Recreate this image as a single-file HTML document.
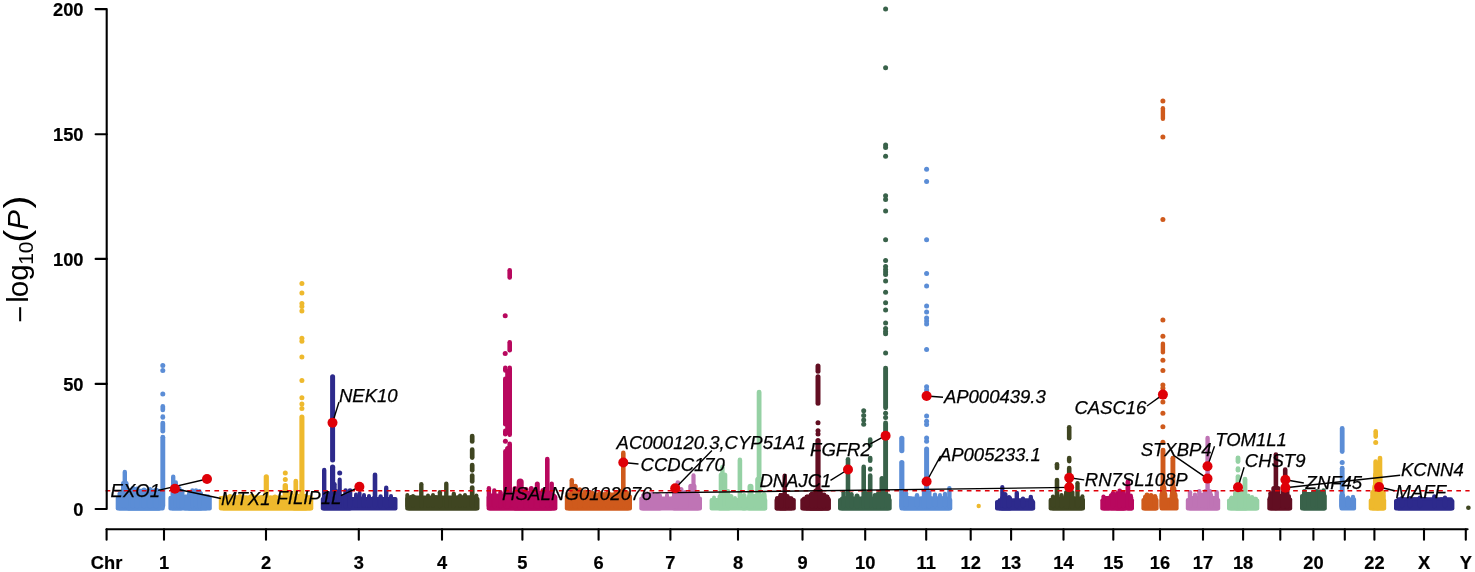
<!DOCTYPE html>
<html><head><meta charset="utf-8"><title>Manhattan plot</title>
<style>html,body{margin:0;padding:0;background:#fff}svg{display:block}</style></head>
<body><svg width="1475" height="572" viewBox="0 0 1475 572">
<rect width="1475" height="572" fill="#fff"/>
<rect x="115.7" y="496.0" width="49.0" height="14.5" rx="2" fill="#5b8dd6"/>
<path d="M117.2,498.0 L117.2,497.9 L118.8,496.9 L120.2,497.2 L122.2,498.7 L124.4,498.7 L126.5,498.6 L128.0,497.6 L130.7,498.5 L132.5,497.0 L135.4,497.1 L137.5,495.9 L138.9,496.3 L140.7,498.4 L142.2,497.9 L145.0,498.3 L147.3,496.9 L149.3,497.2 L150.7,498.7 L152.4,496.8 L154.5,497.9 L156.8,497.5 L158.7,496.5 L161.2,498.1 L163.2,498.0Z" fill="#5b8dd6" stroke="#5b8dd6" stroke-width="2" stroke-linejoin="round"/>
<rect x="168.4" y="496.0" width="43.4" height="14.5" rx="2" fill="#5b8dd6"/>
<path d="M169.9,498.0 L169.9,497.3 L172.8,496.7 L174.6,495.9 L176.1,497.6 L178.8,498.4 L180.9,498.7 L183.4,496.6 L185.8,496.2 L187.6,496.8 L190.0,497.1 L192.1,496.3 L195.1,497.4 L197.6,498.7 L200.2,496.9 L203.2,496.4 L205.0,497.7 L207.5,498.8 L209.7,498.3 L210.3,498.0Z" fill="#5b8dd6" stroke="#5b8dd6" stroke-width="2" stroke-linejoin="round"/>
<rect x="117.5" y="491.5" width="44.0" height="19.0" rx="2" fill="#5b8dd6"/>
<path d="M119.0,493.5 L119.0,493.9 L121.7,493.7 L123.4,493.2 L126.3,493.8 L128.4,492.9 L131.3,492.4 L134.1,493.4 L136.2,493.3 L139.0,492.1 L140.6,493.6 L142.3,493.5 L144.5,492.8 L146.3,494.0 L148.4,493.3 L150.7,492.1 L153.2,493.0 L155.6,492.6 L157.0,492.2 L159.7,492.3 L160.0,493.5Z" fill="#5b8dd6" stroke="#5b8dd6" stroke-width="2" stroke-linejoin="round"/>
<rect x="126.5" y="488.8" width="34.5" height="21.7" rx="2" fill="#5b8dd6"/>
<path d="M128.0,490.8 L128.0,490.5 L130.0,491.1 L132.5,491.2 L133.9,490.9 L135.5,490.6 L136.9,491.3 L138.5,491.1 L140.5,491.2 L143.3,490.1 L144.9,490.8 L146.8,490.6 L148.4,489.6 L151.4,490.4 L153.6,491.1 L155.1,490.6 L156.9,489.6 L158.5,491.3 L159.5,490.8Z" fill="#5b8dd6" stroke="#5b8dd6" stroke-width="2" stroke-linejoin="round"/>
<rect x="170.5" y="490.5" width="12.5" height="20.0" rx="2" fill="#5b8dd6"/>
<path d="M172.0,492.5 L172.0,491.9 L173.6,491.9 L174.9,491.9 L178.0,491.3 L180.5,492.5 L181.5,492.5Z" fill="#5b8dd6" stroke="#5b8dd6" stroke-width="2" stroke-linejoin="round"/>
<rect x="187.0" y="491.5" width="16.0" height="19.0" rx="2" fill="#5b8dd6"/>
<path d="M188.5,493.5 L188.5,493.7 L191.2,492.9 L193.9,493.3 L195.6,492.4 L198.6,492.3 L201.4,492.4 L201.5,493.5Z" fill="#5b8dd6" stroke="#5b8dd6" stroke-width="2" stroke-linejoin="round"/>
<rect x="183.0" y="494.5" width="25.0" height="16.0" rx="2" fill="#5b8dd6"/>
<path d="M184.5,496.5 L184.5,496.5 L186.7,496.3 L188.1,496.9 L189.9,496.5 L192.5,495.1 L194.6,495.1 L197.6,495.1 L199.6,496.6 L201.3,496.6 L203.0,495.8 L205.9,495.3 L206.5,496.5Z" fill="#5b8dd6" stroke="#5b8dd6" stroke-width="2" stroke-linejoin="round"/>
<line x1="124.8" y1="472.0" x2="124.8" y2="506.0" stroke="#5b8dd6" stroke-width="4.4" stroke-linecap="round"/>
<line x1="123.3" y1="483.3" x2="123.3" y2="506.0" stroke="#5b8dd6" stroke-width="4.6" stroke-linecap="round"/>
<line x1="126.3" y1="483.3" x2="126.3" y2="506.0" stroke="#5b8dd6" stroke-width="4.6" stroke-linecap="round"/>
<line x1="162.8" y1="437.2" x2="162.8" y2="506.0" stroke="#5b8dd6" stroke-width="4.9" stroke-linecap="round"/>
<line x1="173.2" y1="476.7" x2="173.2" y2="506.0" stroke="#5b8dd6" stroke-width="4.4" stroke-linecap="round"/>
<line x1="175.8" y1="482.5" x2="175.8" y2="506.0" stroke="#5b8dd6" stroke-width="4.4" stroke-linecap="round"/>
<line x1="179.0" y1="488.5" x2="179.0" y2="506.0" stroke="#5b8dd6" stroke-width="5" stroke-linecap="round"/>
<line x1="182.0" y1="491.5" x2="182.0" y2="506.0" stroke="#5b8dd6" stroke-width="5" stroke-linecap="round"/>
<line x1="192.4" y1="490.4" x2="192.4" y2="506.0" stroke="#5b8dd6" stroke-width="4.4" stroke-linecap="round"/>
<line x1="196.0" y1="490.4" x2="196.0" y2="506.0" stroke="#5b8dd6" stroke-width="4.4" stroke-linecap="round"/>
<line x1="199.4" y1="491.2" x2="199.4" y2="506.0" stroke="#5b8dd6" stroke-width="4.4" stroke-linecap="round"/>
<line x1="208.0" y1="496.3" x2="208.0" y2="506.0" stroke="#5b8dd6" stroke-width="4" stroke-linecap="round"/>
<line x1="133.0" y1="488.5" x2="133.0" y2="506.0" stroke="#5b8dd6" stroke-width="5" stroke-linecap="round"/>
<line x1="137.0" y1="489.0" x2="137.0" y2="506.0" stroke="#5b8dd6" stroke-width="5" stroke-linecap="round"/>
<line x1="144.0" y1="490.0" x2="144.0" y2="506.0" stroke="#5b8dd6" stroke-width="5" stroke-linecap="round"/>
<line x1="150.0" y1="489.5" x2="150.0" y2="506.0" stroke="#5b8dd6" stroke-width="5" stroke-linecap="round"/>
<line x1="156.0" y1="490.0" x2="156.0" y2="506.0" stroke="#5b8dd6" stroke-width="5" stroke-linecap="round"/>
<line x1="162.8" y1="423.1" x2="162.8" y2="431.2" stroke="#5b8dd6" stroke-width="4.8" stroke-linecap="round"/>
<line x1="162.8" y1="406.4" x2="162.8" y2="410.0" stroke="#5b8dd6" stroke-width="4.7" stroke-linecap="round"/>
<line x1="162.8" y1="416.7" x2="162.8" y2="417.4" stroke="#5b8dd6" stroke-width="4.8" stroke-linecap="round"/>
<circle cx="162.8" cy="365.6" r="2.5" fill="#5b8dd6"/>
<circle cx="162.8" cy="370.4" r="2.5" fill="#5b8dd6"/>
<circle cx="162.8" cy="394.1" r="2.5" fill="#5b8dd6"/>
<rect x="218.8" y="496.0" width="94.5" height="14.5" rx="2" fill="#eeb92d"/>
<path d="M220.3,498.0 L220.3,496.9 L223.0,498.6 L225.5,496.1 L228.2,496.6 L230.4,498.3 L233.1,497.9 L235.8,495.9 L237.8,497.6 L240.8,496.7 L242.4,498.5 L244.0,496.1 L246.8,498.4 L249.5,495.9 L252.0,497.8 L254.3,498.5 L255.6,495.9 L258.1,497.3 L261.1,497.5 L263.9,496.4 L265.6,498.1 L267.4,498.1 L269.8,498.1 L271.9,498.5 L274.8,497.8 L276.9,497.1 L279.8,497.6 L282.7,497.3 L285.0,497.3 L286.4,497.5 L288.0,498.8 L290.7,498.3 L292.9,496.7 L295.2,497.9 L297.4,497.2 L300.1,498.5 L302.4,498.1 L304.2,496.5 L306.4,497.2 L309.1,496.1 L311.2,497.0 L311.8,498.0Z" fill="#eeb92d" stroke="#eeb92d" stroke-width="2" stroke-linejoin="round"/>
<rect x="221.5" y="495.5" width="90.5" height="15.0" rx="2" fill="#eeb92d"/>
<path d="M223.0,497.5 L223.0,497.0 L225.5,497.1 L227.8,497.0 L230.8,496.6 L233.6,496.1 L235.4,496.9 L238.4,496.3 L240.0,497.8 L242.1,497.9 L243.8,497.9 L246.3,496.4 L249.2,497.7 L251.8,496.7 L253.3,496.2 L256.4,497.6 L259.4,497.2 L261.5,496.0 L264.3,497.7 L266.4,497.0 L268.3,497.6 L270.2,496.6 L271.6,496.9 L273.7,498.0 L275.6,496.8 L277.8,497.9 L280.8,496.4 L283.9,497.8 L285.7,497.9 L288.3,497.5 L289.9,497.2 L292.8,496.4 L294.6,497.7 L297.5,496.9 L300.1,497.8 L301.5,496.6 L303.6,497.9 L306.5,496.7 L309.3,497.8 L310.5,497.5Z" fill="#eeb92d" stroke="#eeb92d" stroke-width="2" stroke-linejoin="round"/>
<rect x="292.0" y="494.0" width="16.0" height="16.5" rx="2" fill="#eeb92d"/>
<path d="M293.5,496.0 L293.5,496.4 L296.3,495.6 L298.3,495.4 L301.2,496.0 L302.8,495.4 L304.5,496.3 L306.1,496.4 L306.5,496.0Z" fill="#eeb92d" stroke="#eeb92d" stroke-width="2" stroke-linejoin="round"/>
<line x1="266.3" y1="476.8" x2="266.3" y2="506.0" stroke="#eeb92d" stroke-width="5.2" stroke-linecap="round"/>
<line x1="285.3" y1="485.7" x2="285.3" y2="506.0" stroke="#eeb92d" stroke-width="5.4" stroke-linecap="round"/>
<line x1="295.8" y1="481.0" x2="295.8" y2="506.0" stroke="#eeb92d" stroke-width="4.7" stroke-linecap="round"/>
<line x1="301.9" y1="417.1" x2="301.9" y2="506.0" stroke="#eeb92d" stroke-width="5.1" stroke-linecap="round"/>
<line x1="290.5" y1="493.5" x2="290.5" y2="506.0" stroke="#eeb92d" stroke-width="5" stroke-linecap="round"/>
<line x1="240.0" y1="496.5" x2="240.0" y2="506.0" stroke="#eeb92d" stroke-width="5" stroke-linecap="round"/>
<line x1="252.0" y1="496.0" x2="252.0" y2="506.0" stroke="#eeb92d" stroke-width="5" stroke-linecap="round"/>
<line x1="275.0" y1="497.0" x2="275.0" y2="506.0" stroke="#eeb92d" stroke-width="5" stroke-linecap="round"/>
<line x1="230.0" y1="496.5" x2="230.0" y2="506.0" stroke="#eeb92d" stroke-width="5" stroke-linecap="round"/>
<circle cx="285.3" cy="473.0" r="2.5" fill="#eeb92d"/>
<circle cx="285.3" cy="479.4" r="2.5" fill="#eeb92d"/>
<circle cx="301.9" cy="283.6" r="2.5" fill="#eeb92d"/>
<circle cx="301.9" cy="293.0" r="2.5" fill="#eeb92d"/>
<circle cx="301.9" cy="303.5" r="2.5" fill="#eeb92d"/>
<circle cx="301.9" cy="306.5" r="2.5" fill="#eeb92d"/>
<circle cx="301.9" cy="311.0" r="2.5" fill="#eeb92d"/>
<circle cx="301.9" cy="338.3" r="2.5" fill="#eeb92d"/>
<circle cx="301.9" cy="341.2" r="2.5" fill="#eeb92d"/>
<circle cx="301.9" cy="357.0" r="2.5" fill="#eeb92d"/>
<circle cx="301.9" cy="380.6" r="2.5" fill="#eeb92d"/>
<circle cx="301.9" cy="397.7" r="2.5" fill="#eeb92d"/>
<circle cx="301.9" cy="404.0" r="2.5" fill="#eeb92d"/>
<circle cx="301.9" cy="408.5" r="2.5" fill="#eeb92d"/>
<rect x="320.8" y="497.0" width="76.7" height="13.5" rx="2" fill="#2d2a8c"/>
<path d="M322.3,499.0 L322.3,498.9 L324.2,497.6 L326.0,498.3 L327.6,498.8 L329.0,499.1 L330.3,497.7 L332.6,499.3 L334.8,497.0 L336.3,497.4 L338.4,498.4 L341.1,498.7 L343.4,497.8 L346.4,498.8 L349.2,497.7 L351.6,498.6 L353.6,499.7 L355.1,499.6 L357.7,499.1 L359.3,499.6 L362.1,497.2 L364.6,499.0 L366.4,499.0 L368.5,499.4 L370.6,499.1 L373.6,496.9 L375.9,499.1 L378.9,498.9 L380.9,499.8 L382.9,498.4 L385.1,499.2 L387.3,499.8 L389.1,499.6 L391.1,499.7 L392.5,498.9 L394.2,498.1 L396.0,499.0Z" fill="#2d2a8c" stroke="#2d2a8c" stroke-width="2" stroke-linejoin="round"/>
<rect x="322.0" y="494.3" width="30.0" height="16.2" rx="2" fill="#2d2a8c"/>
<path d="M323.5,496.3 L323.5,495.3 L326.0,495.4 L328.8,496.0 L330.7,494.8 L332.3,495.4 L334.8,496.7 L337.6,495.0 L340.0,495.3 L342.7,496.5 L345.0,495.8 L347.8,495.2 L350.5,496.3Z" fill="#2d2a8c" stroke="#2d2a8c" stroke-width="2" stroke-linejoin="round"/>
<line x1="332.6" y1="467.2" x2="332.6" y2="506.0" stroke="#2d2a8c" stroke-width="5.2" stroke-linecap="round"/>
<line x1="324.2" y1="470.0" x2="324.2" y2="506.0" stroke="#2d2a8c" stroke-width="4.4" stroke-linecap="round"/>
<line x1="339.7" y1="479.7" x2="339.7" y2="506.0" stroke="#2d2a8c" stroke-width="4.2" stroke-linecap="round"/>
<line x1="336.3" y1="491.2" x2="336.3" y2="506.0" stroke="#2d2a8c" stroke-width="4.4" stroke-linecap="round"/>
<line x1="328.4" y1="493.2" x2="328.4" y2="506.0" stroke="#2d2a8c" stroke-width="4.4" stroke-linecap="round"/>
<line x1="334.5" y1="484.2" x2="334.5" y2="506.0" stroke="#2d2a8c" stroke-width="4.4" stroke-linecap="round"/>
<line x1="375.0" y1="474.7" x2="375.0" y2="506.0" stroke="#2d2a8c" stroke-width="4.6" stroke-linecap="round"/>
<line x1="386.2" y1="487.8" x2="386.2" y2="506.0" stroke="#2d2a8c" stroke-width="4.4" stroke-linecap="round"/>
<line x1="380.6" y1="496.5" x2="380.6" y2="506.0" stroke="#2d2a8c" stroke-width="4.4" stroke-linecap="round"/>
<line x1="345.6" y1="490.5" x2="345.6" y2="506.0" stroke="#2d2a8c" stroke-width="4.6" stroke-linecap="round"/>
<line x1="350.0" y1="490.5" x2="350.0" y2="506.0" stroke="#2d2a8c" stroke-width="4.6" stroke-linecap="round"/>
<line x1="356.0" y1="494.5" x2="356.0" y2="506.0" stroke="#2d2a8c" stroke-width="4" stroke-linecap="round"/>
<line x1="359.6" y1="493.0" x2="359.6" y2="506.0" stroke="#2d2a8c" stroke-width="4" stroke-linecap="round"/>
<line x1="364.0" y1="495.0" x2="364.0" y2="506.0" stroke="#2d2a8c" stroke-width="4" stroke-linecap="round"/>
<line x1="369.0" y1="496.0" x2="369.0" y2="506.0" stroke="#2d2a8c" stroke-width="4" stroke-linecap="round"/>
<line x1="391.0" y1="496.0" x2="391.0" y2="506.0" stroke="#2d2a8c" stroke-width="4" stroke-linecap="round"/>
<line x1="332.6" y1="376.7" x2="332.6" y2="460.1" stroke="#2d2a8c" stroke-width="5.0" stroke-linecap="round"/>
<circle cx="339.7" cy="473.1" r="2.5" fill="#2d2a8c"/>
<rect x="405.2" y="497.0" width="74.3" height="13.5" rx="2" fill="#3f4521"/>
<path d="M406.7,499.0 L406.7,498.1 L409.6,497.8 L412.1,499.2 L413.5,499.5 L415.5,499.5 L418.3,498.2 L420.7,498.0 L423.2,498.4 L424.5,497.5 L427.2,498.3 L429.4,497.9 L430.9,497.6 L432.6,499.6 L434.4,497.7 L436.1,497.6 L439.1,498.4 L441.1,498.4 L443.6,497.5 L446.0,497.9 L447.5,499.4 L449.3,497.6 L451.1,498.1 L452.5,499.7 L454.3,497.8 L456.8,497.8 L458.6,498.3 L460.8,498.5 L462.3,497.2 L464.0,496.9 L466.9,499.8 L469.1,497.4 L472.1,498.5 L473.9,499.2 L476.9,499.2 L478.0,499.0Z" fill="#3f4521" stroke="#3f4521" stroke-width="2" stroke-linejoin="round"/>
<rect x="407.0" y="495.5" width="71.0" height="15.0" rx="2" fill="#3f4521"/>
<path d="M408.5,497.5 L408.5,497.7 L410.7,496.1 L412.3,496.4 L414.5,496.2 L417.1,497.5 L420.0,497.0 L421.3,498.0 L423.5,497.1 L425.4,497.7 L427.3,497.4 L430.1,498.0 L432.7,496.3 L434.3,496.1 L436.8,496.2 L438.7,497.3 L440.7,496.0 L443.0,497.3 L445.1,497.4 L446.5,497.8 L449.3,497.4 L452.3,497.5 L454.1,497.0 L455.7,497.3 L458.7,496.2 L461.5,496.7 L464.4,496.1 L466.7,496.6 L468.1,496.5 L470.2,496.5 L472.7,497.4 L474.1,496.1 L475.6,497.1 L476.5,497.5Z" fill="#3f4521" stroke="#3f4521" stroke-width="2" stroke-linejoin="round"/>
<line x1="472.2" y1="487.5" x2="472.2" y2="506.0" stroke="#3f4521" stroke-width="4.7" stroke-linecap="round"/>
<line x1="421.3" y1="484.2" x2="421.3" y2="506.0" stroke="#3f4521" stroke-width="4.4" stroke-linecap="round"/>
<line x1="446.3" y1="483.7" x2="446.3" y2="506.0" stroke="#3f4521" stroke-width="4.4" stroke-linecap="round"/>
<line x1="439.9" y1="492.2" x2="439.9" y2="506.0" stroke="#3f4521" stroke-width="4.4" stroke-linecap="round"/>
<line x1="453.8" y1="493.9" x2="453.8" y2="506.0" stroke="#3f4521" stroke-width="4.4" stroke-linecap="round"/>
<line x1="407.3" y1="495.0" x2="407.3" y2="506.0" stroke="#3f4521" stroke-width="4" stroke-linecap="round"/>
<line x1="476.4" y1="495.4" x2="476.4" y2="506.0" stroke="#3f4521" stroke-width="4" stroke-linecap="round"/>
<line x1="413.0" y1="496.0" x2="413.0" y2="506.0" stroke="#3f4521" stroke-width="4" stroke-linecap="round"/>
<line x1="428.0" y1="495.5" x2="428.0" y2="506.0" stroke="#3f4521" stroke-width="4" stroke-linecap="round"/>
<line x1="433.0" y1="495.0" x2="433.0" y2="506.0" stroke="#3f4521" stroke-width="4" stroke-linecap="round"/>
<line x1="460.0" y1="495.5" x2="460.0" y2="506.0" stroke="#3f4521" stroke-width="4" stroke-linecap="round"/>
<line x1="465.0" y1="495.0" x2="465.0" y2="506.0" stroke="#3f4521" stroke-width="4" stroke-linecap="round"/>
<line x1="472.2" y1="436.1" x2="472.2" y2="441.5" stroke="#3f4521" stroke-width="4.7" stroke-linecap="round"/>
<line x1="472.2" y1="449.7" x2="472.2" y2="457.6" stroke="#3f4521" stroke-width="4.7" stroke-linecap="round"/>
<line x1="472.2" y1="465.1" x2="472.2" y2="470.3" stroke="#3f4521" stroke-width="4.7" stroke-linecap="round"/>
<line x1="472.2" y1="475.6" x2="472.2" y2="481.4" stroke="#3f4521" stroke-width="4.7" stroke-linecap="round"/>
<rect x="486.6" y="495.0" width="70.8" height="15.5" rx="2" fill="#b8085e"/>
<path d="M488.1,497.0 L488.1,497.0 L490.7,494.9 L492.5,495.9 L494.3,496.2 L496.4,497.3 L498.0,497.2 L500.9,496.4 L502.6,495.1 L505.7,496.5 L507.2,497.3 L508.7,496.8 L510.2,497.1 L512.0,496.1 L514.8,495.6 L516.9,496.6 L519.1,496.7 L521.0,497.7 L522.9,494.9 L524.4,496.3 L526.8,495.3 L528.5,497.0 L530.3,496.7 L532.4,495.0 L535.2,495.2 L536.6,497.8 L539.1,495.2 L541.3,496.1 L542.6,496.7 L545.6,495.4 L548.4,494.9 L550.1,497.5 L551.7,496.3 L554.2,495.0 L555.9,497.0Z" fill="#b8085e" stroke="#b8085e" stroke-width="2" stroke-linejoin="round"/>
<rect x="488.0" y="493.5" width="68.0" height="17.0" rx="2" fill="#b8085e"/>
<path d="M489.5,495.5 L489.5,494.7 L492.2,495.1 L494.5,495.9 L497.2,495.5 L500.1,494.7 L501.9,495.7 L503.7,494.7 L506.3,495.8 L507.7,495.0 L510.0,495.2 L511.8,494.8 L513.1,495.4 L515.2,494.1 L517.7,494.2 L519.8,495.5 L521.6,494.1 L524.2,495.4 L525.5,495.0 L528.0,495.2 L529.8,494.7 L532.7,495.5 L534.1,495.3 L536.2,494.6 L537.9,494.4 L540.5,495.0 L542.2,494.1 L544.0,494.4 L545.8,495.6 L548.4,495.4 L551.4,495.0 L553.1,495.6 L554.5,495.5Z" fill="#b8085e" stroke="#b8085e" stroke-width="2" stroke-linejoin="round"/>
<rect x="513.0" y="491.0" width="40.0" height="19.5" rx="2" fill="#b8085e"/>
<path d="M514.5,493.0 L514.5,492.2 L517.5,493.2 L519.5,493.1 L522.5,493.2 L523.9,493.4 L526.0,491.7 L528.8,492.0 L531.9,491.6 L533.8,493.1 L536.8,492.0 L538.2,492.2 L540.1,492.8 L542.0,493.2 L543.4,492.9 L545.3,491.6 L546.8,491.6 L548.5,492.8 L551.3,491.9 L551.5,493.0Z" fill="#b8085e" stroke="#b8085e" stroke-width="2" stroke-linejoin="round"/>
<line x1="509.7" y1="443.8" x2="509.7" y2="506.0" stroke="#b8085e" stroke-width="4.6" stroke-linecap="round"/>
<line x1="505.4" y1="451.3" x2="505.4" y2="506.0" stroke="#b8085e" stroke-width="4.6" stroke-linecap="round"/>
<line x1="507.6" y1="448.5" x2="507.6" y2="506.0" stroke="#b8085e" stroke-width="5" stroke-linecap="round"/>
<line x1="547.3" y1="459.0" x2="547.3" y2="506.0" stroke="#b8085e" stroke-width="4.6" stroke-linecap="round"/>
<line x1="520.2" y1="482.1" x2="520.2" y2="506.0" stroke="#b8085e" stroke-width="7" stroke-linecap="round"/>
<line x1="537.3" y1="484.0" x2="537.3" y2="506.0" stroke="#b8085e" stroke-width="5" stroke-linecap="round"/>
<line x1="551.7" y1="483.7" x2="551.7" y2="506.0" stroke="#b8085e" stroke-width="4.4" stroke-linecap="round"/>
<line x1="531.3" y1="488.5" x2="531.3" y2="506.0" stroke="#b8085e" stroke-width="5" stroke-linecap="round"/>
<line x1="488.9" y1="488.2" x2="488.9" y2="506.0" stroke="#b8085e" stroke-width="4.4" stroke-linecap="round"/>
<line x1="494.3" y1="490.4" x2="494.3" y2="506.0" stroke="#b8085e" stroke-width="4.4" stroke-linecap="round"/>
<line x1="500.5" y1="492.2" x2="500.5" y2="506.0" stroke="#b8085e" stroke-width="4.4" stroke-linecap="round"/>
<line x1="515.0" y1="488.5" x2="515.0" y2="506.0" stroke="#b8085e" stroke-width="5" stroke-linecap="round"/>
<line x1="526.0" y1="489.5" x2="526.0" y2="506.0" stroke="#b8085e" stroke-width="5" stroke-linecap="round"/>
<line x1="543.0" y1="490.5" x2="543.0" y2="506.0" stroke="#b8085e" stroke-width="5" stroke-linecap="round"/>
<line x1="509.7" y1="270.3" x2="509.7" y2="277.4" stroke="#b8085e" stroke-width="4.6" stroke-linecap="round"/>
<line x1="509.7" y1="342.3" x2="509.7" y2="350.2" stroke="#b8085e" stroke-width="4.6" stroke-linecap="round"/>
<line x1="509.7" y1="367.7" x2="509.7" y2="434.7" stroke="#b8085e" stroke-width="4.6" stroke-linecap="round"/>
<line x1="505.3" y1="367.7" x2="505.3" y2="370.5" stroke="#b8085e" stroke-width="4.6" stroke-linecap="round"/>
<line x1="505.3" y1="378.8" x2="505.3" y2="424.2" stroke="#b8085e" stroke-width="4.6" stroke-linecap="round"/>
<line x1="505.3" y1="430.8" x2="505.3" y2="434.2" stroke="#b8085e" stroke-width="4.6" stroke-linecap="round"/>
<line x1="507.5" y1="371.3" x2="507.5" y2="432.7" stroke="#b8085e" stroke-width="4.6" stroke-linecap="round"/>
<circle cx="505.2" cy="315.7" r="2.5" fill="#b8085e"/>
<circle cx="505.2" cy="353.5" r="2.5" fill="#b8085e"/>
<circle cx="505.4" cy="441.2" r="2.5" fill="#b8085e"/>
<rect x="564.8" y="494.5" width="67.2" height="16.0" rx="2" fill="#cf5a1c"/>
<path d="M566.3,496.5 L566.3,497.2 L568.5,496.2 L571.4,496.8 L573.4,494.7 L574.7,496.1 L577.5,495.0 L578.9,497.2 L580.3,494.6 L582.1,495.1 L585.0,496.3 L586.8,494.5 L589.2,496.6 L591.8,496.4 L593.6,497.3 L596.2,494.6 L598.6,494.5 L600.0,496.6 L602.2,494.5 L605.2,496.2 L606.9,496.1 L609.1,494.6 L610.8,494.9 L613.4,494.9 L616.1,495.5 L618.0,496.4 L619.9,495.0 L621.4,496.8 L624.0,496.6 L625.4,497.2 L627.7,496.4 L630.5,496.5Z" fill="#cf5a1c" stroke="#cf5a1c" stroke-width="2" stroke-linejoin="round"/>
<rect x="567.0" y="492.5" width="63.0" height="18.0" rx="2" fill="#cf5a1c"/>
<path d="M568.5,494.5 L568.5,493.2 L571.6,494.5 L573.0,494.8 L575.2,493.6 L577.3,494.5 L579.4,493.8 L581.9,493.5 L584.7,493.7 L586.2,493.3 L588.1,493.9 L590.0,493.5 L591.7,494.5 L593.5,494.7 L596.3,493.8 L598.2,494.2 L601.3,494.0 L603.0,493.4 L605.5,493.0 L607.0,494.1 L609.8,493.3 L612.7,494.9 L614.5,494.8 L616.2,493.1 L618.5,493.1 L620.5,493.3 L622.6,494.5 L625.3,493.1 L626.8,493.8 L628.5,494.5Z" fill="#cf5a1c" stroke="#cf5a1c" stroke-width="2" stroke-linejoin="round"/>
<line x1="623.3" y1="452.9" x2="623.3" y2="506.0" stroke="#cf5a1c" stroke-width="4.6" stroke-linecap="round"/>
<line x1="571.8" y1="480.2" x2="571.8" y2="506.0" stroke="#cf5a1c" stroke-width="4.5" stroke-linecap="round"/>
<line x1="575.3" y1="486.3" x2="575.3" y2="506.0" stroke="#cf5a1c" stroke-width="5" stroke-linecap="round"/>
<line x1="579.7" y1="489.8" x2="579.7" y2="506.0" stroke="#cf5a1c" stroke-width="5" stroke-linecap="round"/>
<line x1="585.0" y1="492.0" x2="585.0" y2="506.0" stroke="#cf5a1c" stroke-width="5" stroke-linecap="round"/>
<line x1="592.0" y1="493.0" x2="592.0" y2="506.0" stroke="#cf5a1c" stroke-width="5" stroke-linecap="round"/>
<line x1="600.0" y1="493.5" x2="600.0" y2="506.0" stroke="#cf5a1c" stroke-width="5" stroke-linecap="round"/>
<line x1="608.0" y1="493.0" x2="608.0" y2="506.0" stroke="#cf5a1c" stroke-width="5" stroke-linecap="round"/>
<line x1="616.0" y1="493.0" x2="616.0" y2="506.0" stroke="#cf5a1c" stroke-width="5" stroke-linecap="round"/>
<line x1="620.5" y1="491.5" x2="620.5" y2="506.0" stroke="#cf5a1c" stroke-width="5" stroke-linecap="round"/>
<line x1="626.5" y1="492.5" x2="626.5" y2="506.0" stroke="#cf5a1c" stroke-width="5" stroke-linecap="round"/>
<rect x="639.3" y="496.5" width="62.7" height="14.0" rx="2" fill="#bf74b5"/>
<path d="M640.8,498.5 L640.8,498.7 L642.8,498.9 L644.4,498.6 L646.8,497.4 L648.5,499.3 L650.4,497.3 L652.0,498.4 L653.7,497.0 L656.0,499.2 L657.5,498.2 L659.8,497.4 L661.3,498.9 L663.8,498.1 L665.6,498.4 L668.6,498.4 L670.9,498.3 L673.0,496.8 L676.1,498.3 L677.7,497.2 L679.4,499.3 L682.3,498.1 L685.1,498.1 L688.0,498.0 L689.6,499.3 L691.9,497.4 L694.8,499.1 L697.2,498.2 L699.4,498.9 L700.5,498.5Z" fill="#bf74b5" stroke="#bf74b5" stroke-width="2" stroke-linejoin="round"/>
<rect x="641.0" y="493.5" width="21.0" height="17.0" rx="2" fill="#bf74b5"/>
<path d="M642.5,495.5 L642.5,495.0 L645.4,495.8 L647.6,494.4 L650.7,495.6 L652.2,494.1 L655.2,495.0 L656.6,494.1 L658.7,494.2 L660.5,495.5Z" fill="#bf74b5" stroke="#bf74b5" stroke-width="2" stroke-linejoin="round"/>
<rect x="672.0" y="493.0" width="28.0" height="17.5" rx="2" fill="#bf74b5"/>
<path d="M673.5,495.0 L673.5,493.9 L675.1,493.9 L676.8,494.7 L679.6,493.8 L681.3,495.1 L683.3,494.5 L685.3,495.3 L687.0,494.1 L689.9,495.4 L692.2,494.0 L693.6,493.8 L695.2,494.3 L697.4,494.2 L698.5,495.0Z" fill="#bf74b5" stroke="#bf74b5" stroke-width="2" stroke-linejoin="round"/>
<line x1="693.5" y1="475.4" x2="693.5" y2="506.0" stroke="#bf74b5" stroke-width="4.2" stroke-linecap="round"/>
<line x1="690.8" y1="486.3" x2="690.8" y2="506.0" stroke="#bf74b5" stroke-width="5" stroke-linecap="round"/>
<line x1="694.0" y1="486.3" x2="694.0" y2="506.0" stroke="#bf74b5" stroke-width="5" stroke-linecap="round"/>
<line x1="677.8" y1="482.6" x2="677.8" y2="506.0" stroke="#bf74b5" stroke-width="4.6" stroke-linecap="round"/>
<line x1="675.0" y1="488.0" x2="675.0" y2="506.0" stroke="#bf74b5" stroke-width="6" stroke-linecap="round"/>
<line x1="681.0" y1="489.5" x2="681.0" y2="506.0" stroke="#bf74b5" stroke-width="5" stroke-linecap="round"/>
<line x1="685.0" y1="492.5" x2="685.0" y2="506.0" stroke="#bf74b5" stroke-width="5" stroke-linecap="round"/>
<line x1="667.0" y1="495.0" x2="667.0" y2="506.0" stroke="#bf74b5" stroke-width="4" stroke-linecap="round"/>
<line x1="652.0" y1="493.5" x2="652.0" y2="506.0" stroke="#bf74b5" stroke-width="4" stroke-linecap="round"/>
<line x1="646.0" y1="493.5" x2="646.0" y2="506.0" stroke="#bf74b5" stroke-width="4" stroke-linecap="round"/>
<rect x="709.6" y="498.0" width="57.7" height="12.5" rx="2" fill="#95d1a4"/>
<path d="M711.1,500.0 L711.1,499.7 L713.4,499.6 L715.9,499.6 L718.0,500.5 L720.4,499.5 L722.2,499.0 L724.9,499.6 L726.5,499.6 L728.0,500.2 L730.1,500.3 L732.2,499.5 L733.6,499.2 L735.0,499.0 L737.7,499.5 L739.1,499.5 L741.1,498.6 L742.7,498.8 L745.8,499.0 L748.5,500.1 L751.6,499.5 L754.6,498.7 L756.2,498.9 L759.1,500.4 L761.1,499.0 L762.7,498.7 L764.5,498.9 L765.8,500.0Z" fill="#95d1a4" stroke="#95d1a4" stroke-width="2" stroke-linejoin="round"/>
<rect x="717.5" y="494.5" width="13.5" height="16.0" rx="2" fill="#95d1a4"/>
<path d="M719.0,496.5 L719.0,496.0 L721.9,496.6 L723.7,496.0 L725.6,496.9 L727.2,496.7 L729.5,496.5Z" fill="#95d1a4" stroke="#95d1a4" stroke-width="2" stroke-linejoin="round"/>
<rect x="741.0" y="496.0" width="6.0" height="14.5" rx="2" fill="#95d1a4"/>
<path d="M742.5,498.0 L742.5,497.1 L745.4,498.2 L745.5,498.0Z" fill="#95d1a4" stroke="#95d1a4" stroke-width="2" stroke-linejoin="round"/>
<rect x="747.0" y="494.0" width="19.5" height="16.5" rx="2" fill="#95d1a4"/>
<path d="M748.5,496.0 L748.5,496.3 L750.8,495.2 L752.7,494.8 L755.0,495.3 L757.9,496.3 L760.9,495.2 L763.0,494.9 L764.7,494.5 L765.0,496.0Z" fill="#95d1a4" stroke="#95d1a4" stroke-width="2" stroke-linejoin="round"/>
<line x1="759.1" y1="392.1" x2="759.1" y2="506.0" stroke="#95d1a4" stroke-width="4.8" stroke-linecap="round"/>
<line x1="739.9" y1="459.9" x2="739.9" y2="506.0" stroke="#95d1a4" stroke-width="4.6" stroke-linecap="round"/>
<line x1="722.4" y1="467.2" x2="722.4" y2="506.0" stroke="#95d1a4" stroke-width="4.4" stroke-linecap="round"/>
<line x1="721.2" y1="474.9" x2="721.2" y2="506.0" stroke="#95d1a4" stroke-width="5" stroke-linecap="round"/>
<line x1="724.8" y1="474.9" x2="724.8" y2="506.0" stroke="#95d1a4" stroke-width="5" stroke-linecap="round"/>
<line x1="758.2" y1="479.8" x2="758.2" y2="506.0" stroke="#95d1a4" stroke-width="6" stroke-linecap="round"/>
<line x1="750.5" y1="486.8" x2="750.5" y2="506.0" stroke="#95d1a4" stroke-width="6" stroke-linecap="round"/>
<line x1="744.0" y1="495.5" x2="744.0" y2="506.0" stroke="#95d1a4" stroke-width="5" stroke-linecap="round"/>
<line x1="731.0" y1="496.5" x2="731.0" y2="506.0" stroke="#95d1a4" stroke-width="5" stroke-linecap="round"/>
<line x1="735.0" y1="498.0" x2="735.0" y2="506.0" stroke="#95d1a4" stroke-width="4" stroke-linecap="round"/>
<line x1="714.0" y1="497.5" x2="714.0" y2="506.0" stroke="#95d1a4" stroke-width="4" stroke-linecap="round"/>
<line x1="764.0" y1="494.5" x2="764.0" y2="506.0" stroke="#95d1a4" stroke-width="5" stroke-linecap="round"/>
<line x1="728.0" y1="491.2" x2="728.0" y2="506.0" stroke="#95d1a4" stroke-width="4.4" stroke-linecap="round"/>
<rect x="774.5" y="498.0" width="21.3" height="12.5" rx="2" fill="#620e22"/>
<path d="M776.0,500.0 L776.0,499.8 L778.7,499.6 L780.3,499.0 L781.7,498.9 L783.5,499.2 L786.5,499.3 L789.0,499.9 L790.3,500.4 L791.9,499.3 L794.0,499.5 L794.3,500.0Z" fill="#620e22" stroke="#620e22" stroke-width="2" stroke-linejoin="round"/>
<rect x="800.3" y="498.0" width="30.6" height="12.5" rx="2" fill="#620e22"/>
<path d="M801.8,500.0 L801.8,500.2 L803.5,499.2 L804.9,500.5 L806.8,500.3 L808.8,500.1 L811.1,499.3 L812.8,499.3 L815.0,500.2 L817.9,500.0 L819.5,500.3 L821.9,498.8 L824.6,499.7 L826.4,500.5 L828.9,499.4 L829.4,500.0Z" fill="#620e22" stroke="#620e22" stroke-width="2" stroke-linejoin="round"/>
<rect x="775.0" y="496.3" width="18.5" height="14.2" rx="2" fill="#620e22"/>
<path d="M776.5,498.3 L776.5,497.5 L778.6,496.9 L781.2,498.3 L784.1,498.7 L786.4,498.0 L788.1,498.7 L790.8,498.8 L792.0,498.3Z" fill="#620e22" stroke="#620e22" stroke-width="2" stroke-linejoin="round"/>
<rect x="778.3" y="493.3" width="9.2" height="17.2" rx="2" fill="#620e22"/>
<path d="M779.8,495.3 L779.8,493.9 L781.4,495.4 L783.8,494.8 L786.0,495.3Z" fill="#620e22" stroke="#620e22" stroke-width="2" stroke-linejoin="round"/>
<rect x="802.0" y="496.8" width="28.5" height="13.7" rx="2" fill="#620e22"/>
<path d="M803.5,498.8 L803.5,497.7 L805.1,498.7 L807.0,499.2 L809.9,497.7 L812.4,499.3 L815.2,497.8 L817.4,497.8 L819.5,498.8 L821.0,498.8 L822.4,498.6 L825.0,497.9 L827.8,497.9 L829.0,498.8Z" fill="#620e22" stroke="#620e22" stroke-width="2" stroke-linejoin="round"/>
<rect x="804.5" y="494.8" width="25.0" height="15.7" rx="2" fill="#620e22"/>
<path d="M806.0,496.8 L806.0,496.2 L808.1,495.7 L810.3,496.8 L812.8,495.4 L814.5,495.5 L815.8,496.8 L817.6,495.8 L820.5,495.8 L822.4,495.5 L824.3,496.8 L827.3,496.0 L828.0,496.8Z" fill="#620e22" stroke="#620e22" stroke-width="2" stroke-linejoin="round"/>
<rect x="808.5" y="493.0" width="15.5" height="17.5" rx="2" fill="#620e22"/>
<path d="M810.0,495.0 L810.0,494.2 L813.0,494.6 L815.8,494.1 L818.7,494.6 L821.3,494.4 L822.5,495.0Z" fill="#620e22" stroke="#620e22" stroke-width="2" stroke-linejoin="round"/>
<line x1="784.7" y1="475.7" x2="784.7" y2="506.0" stroke="#620e22" stroke-width="4.4" stroke-linecap="round"/>
<line x1="781.5" y1="495.2" x2="781.5" y2="506.0" stroke="#620e22" stroke-width="4.4" stroke-linecap="round"/>
<line x1="787.5" y1="496.2" x2="787.5" y2="506.0" stroke="#620e22" stroke-width="4.4" stroke-linecap="round"/>
<line x1="790.5" y1="498.5" x2="790.5" y2="506.0" stroke="#620e22" stroke-width="4" stroke-linecap="round"/>
<line x1="818.0" y1="440.6" x2="818.0" y2="506.0" stroke="#620e22" stroke-width="5.2" stroke-linecap="round"/>
<line x1="815.8" y1="491.0" x2="815.8" y2="506.0" stroke="#620e22" stroke-width="5" stroke-linecap="round"/>
<line x1="820.3" y1="491.0" x2="820.3" y2="506.0" stroke="#620e22" stroke-width="5" stroke-linecap="round"/>
<line x1="812.0" y1="494.0" x2="812.0" y2="506.0" stroke="#620e22" stroke-width="5" stroke-linecap="round"/>
<line x1="824.0" y1="495.0" x2="824.0" y2="506.0" stroke="#620e22" stroke-width="5" stroke-linecap="round"/>
<line x1="807.0" y1="496.7" x2="807.0" y2="506.0" stroke="#620e22" stroke-width="4.4" stroke-linecap="round"/>
<line x1="827.0" y1="496.5" x2="827.0" y2="506.0" stroke="#620e22" stroke-width="4" stroke-linecap="round"/>
<line x1="818.0" y1="366.1" x2="818.0" y2="371.3" stroke="#620e22" stroke-width="5" stroke-linecap="round"/>
<line x1="818.0" y1="376.7" x2="818.0" y2="403.3" stroke="#620e22" stroke-width="5" stroke-linecap="round"/>
<circle cx="818.0" cy="422.7" r="2.5" fill="#620e22"/>
<circle cx="818.0" cy="430.7" r="2.5" fill="#620e22"/>
<circle cx="818.0" cy="434.0" r="2.5" fill="#620e22"/>
<rect x="838.0" y="498.0" width="53.7" height="12.5" rx="2" fill="#39624a"/>
<path d="M839.5,500.0 L839.5,500.2 L841.9,500.6 L844.8,500.4 L846.2,500.5 L849.2,499.8 L850.7,500.8 L852.1,498.8 L854.6,498.8 L857.2,500.7 L859.5,499.8 L862.3,498.4 L865.2,500.7 L868.0,498.1 L871.0,500.5 L872.7,500.5 L874.1,498.3 L876.8,498.9 L879.6,499.0 L881.4,500.6 L882.9,498.6 L884.6,499.9 L886.7,500.8 L888.4,500.0 L890.2,500.0Z" fill="#39624a" stroke="#39624a" stroke-width="2" stroke-linejoin="round"/>
<rect x="840.0" y="496.5" width="50.0" height="14.0" rx="2" fill="#39624a"/>
<path d="M841.5,498.5 L841.5,498.3 L843.4,497.1 L845.6,497.3 L848.0,498.9 L850.0,498.1 L852.7,498.3 L855.3,497.9 L857.0,497.3 L858.5,497.4 L860.1,499.0 L861.8,497.5 L864.8,499.0 L867.0,498.0 L869.7,498.6 L871.9,498.3 L874.7,498.5 L877.7,498.4 L879.4,497.6 L881.6,498.8 L884.0,498.8 L886.7,497.6 L888.5,498.5Z" fill="#39624a" stroke="#39624a" stroke-width="2" stroke-linejoin="round"/>
<line x1="885.6" y1="422.9" x2="885.6" y2="506.0" stroke="#39624a" stroke-width="4.9" stroke-linecap="round"/>
<line x1="882.0" y1="478.5" x2="882.0" y2="506.0" stroke="#39624a" stroke-width="5" stroke-linecap="round"/>
<line x1="888.5" y1="496.0" x2="888.5" y2="506.0" stroke="#39624a" stroke-width="5" stroke-linecap="round"/>
<line x1="863.7" y1="466.9" x2="863.7" y2="506.0" stroke="#39624a" stroke-width="4.6" stroke-linecap="round"/>
<line x1="870.2" y1="475.6" x2="870.2" y2="506.0" stroke="#39624a" stroke-width="4.6" stroke-linecap="round"/>
<line x1="848.0" y1="459.3" x2="848.0" y2="506.0" stroke="#39624a" stroke-width="4.6" stroke-linecap="round"/>
<line x1="843.6" y1="492.2" x2="843.6" y2="506.0" stroke="#39624a" stroke-width="4.4" stroke-linecap="round"/>
<line x1="851.5" y1="494.2" x2="851.5" y2="506.0" stroke="#39624a" stroke-width="4.4" stroke-linecap="round"/>
<line x1="857.0" y1="496.0" x2="857.0" y2="506.0" stroke="#39624a" stroke-width="5" stroke-linecap="round"/>
<line x1="866.8" y1="493.5" x2="866.8" y2="506.0" stroke="#39624a" stroke-width="5" stroke-linecap="round"/>
<line x1="875.0" y1="495.5" x2="875.0" y2="506.0" stroke="#39624a" stroke-width="5" stroke-linecap="round"/>
<line x1="878.5" y1="493.5" x2="878.5" y2="506.0" stroke="#39624a" stroke-width="5" stroke-linecap="round"/>
<line x1="870.2" y1="439.5" x2="870.2" y2="445.5" stroke="#39624a" stroke-width="4.6" stroke-linecap="round"/>
<line x1="870.2" y1="458.1" x2="870.2" y2="460.7" stroke="#39624a" stroke-width="4.6" stroke-linecap="round"/>
<line x1="870.2" y1="468.7" x2="870.2" y2="469.5" stroke="#39624a" stroke-width="4.6" stroke-linecap="round"/>
<line x1="885.6" y1="368.1" x2="885.6" y2="407.8" stroke="#39624a" stroke-width="4.9" stroke-linecap="round"/>
<circle cx="885.6" cy="9.1" r="2.5" fill="#39624a"/>
<circle cx="885.6" cy="67.8" r="2.5" fill="#39624a"/>
<circle cx="885.6" cy="145.0" r="2.5" fill="#39624a"/>
<circle cx="885.6" cy="147.5" r="2.5" fill="#39624a"/>
<circle cx="885.6" cy="156.3" r="2.5" fill="#39624a"/>
<circle cx="885.6" cy="195.7" r="2.5" fill="#39624a"/>
<circle cx="885.6" cy="199.6" r="2.5" fill="#39624a"/>
<circle cx="885.6" cy="211.1" r="2.5" fill="#39624a"/>
<circle cx="885.6" cy="239.8" r="2.5" fill="#39624a"/>
<circle cx="885.6" cy="260.4" r="2.5" fill="#39624a"/>
<circle cx="885.6" cy="266.4" r="2.5" fill="#39624a"/>
<circle cx="885.6" cy="269.5" r="2.5" fill="#39624a"/>
<circle cx="885.6" cy="272.0" r="2.5" fill="#39624a"/>
<circle cx="885.6" cy="274.4" r="2.5" fill="#39624a"/>
<circle cx="885.6" cy="281.0" r="2.5" fill="#39624a"/>
<circle cx="885.6" cy="292.2" r="2.5" fill="#39624a"/>
<circle cx="885.6" cy="302.7" r="2.5" fill="#39624a"/>
<circle cx="885.6" cy="310.0" r="2.5" fill="#39624a"/>
<circle cx="885.6" cy="323.0" r="2.5" fill="#39624a"/>
<circle cx="885.6" cy="328.6" r="2.5" fill="#39624a"/>
<circle cx="885.6" cy="331.5" r="2.5" fill="#39624a"/>
<circle cx="885.6" cy="333.8" r="2.5" fill="#39624a"/>
<circle cx="885.6" cy="353.1" r="2.5" fill="#39624a"/>
<circle cx="885.6" cy="413.2" r="2.5" fill="#39624a"/>
<circle cx="885.6" cy="417.6" r="2.5" fill="#39624a"/>
<circle cx="863.7" cy="410.8" r="2.5" fill="#39624a"/>
<circle cx="863.7" cy="415.5" r="2.5" fill="#39624a"/>
<circle cx="863.7" cy="420.0" r="2.5" fill="#39624a"/>
<circle cx="863.7" cy="424.3" r="2.5" fill="#39624a"/>
<rect x="899.5" y="498.0" width="52.8" height="12.5" rx="2" fill="#5b8dd6"/>
<path d="M901.0,500.0 L901.0,499.0 L902.9,499.6 L905.0,498.2 L906.4,498.2 L907.8,500.2 L909.6,498.1 L911.8,499.7 L914.7,500.1 L916.8,499.3 L919.4,498.6 L921.9,499.8 L923.8,500.4 L926.6,498.9 L929.2,500.3 L931.3,498.5 L933.7,500.5 L935.8,498.2 L937.5,500.3 L939.4,498.7 L942.2,500.4 L943.8,500.1 L945.7,499.3 L947.3,499.9 L948.9,497.9 L950.8,500.0Z" fill="#5b8dd6" stroke="#5b8dd6" stroke-width="2" stroke-linejoin="round"/>
<rect x="902.0" y="496.5" width="49.0" height="14.0" rx="2" fill="#5b8dd6"/>
<path d="M903.5,498.5 L903.5,498.8 L906.5,498.8 L908.5,497.0 L911.2,497.5 L913.3,498.6 L915.8,498.8 L917.4,498.2 L918.8,498.2 L921.5,497.6 L923.7,497.7 L925.9,498.7 L928.3,498.2 L930.9,497.2 L933.0,497.9 L935.6,498.2 L937.3,497.6 L940.2,497.5 L942.7,497.3 L945.3,497.7 L947.4,498.4 L949.5,498.5Z" fill="#5b8dd6" stroke="#5b8dd6" stroke-width="2" stroke-linejoin="round"/>
<line x1="901.8" y1="462.5" x2="901.8" y2="506.0" stroke="#5b8dd6" stroke-width="5.2" stroke-linecap="round"/>
<line x1="926.6" y1="448.9" x2="926.6" y2="506.0" stroke="#5b8dd6" stroke-width="5.0" stroke-linecap="round"/>
<line x1="924.3" y1="492.5" x2="924.3" y2="506.0" stroke="#5b8dd6" stroke-width="5" stroke-linecap="round"/>
<line x1="929.0" y1="492.5" x2="929.0" y2="506.0" stroke="#5b8dd6" stroke-width="5" stroke-linecap="round"/>
<line x1="949.4" y1="488.2" x2="949.4" y2="506.0" stroke="#5b8dd6" stroke-width="4.4" stroke-linecap="round"/>
<line x1="945.0" y1="493.9" x2="945.0" y2="506.0" stroke="#5b8dd6" stroke-width="4.4" stroke-linecap="round"/>
<line x1="906.0" y1="493.2" x2="906.0" y2="506.0" stroke="#5b8dd6" stroke-width="4.4" stroke-linecap="round"/>
<line x1="935.0" y1="494.7" x2="935.0" y2="506.0" stroke="#5b8dd6" stroke-width="4.4" stroke-linecap="round"/>
<line x1="917.0" y1="495.2" x2="917.0" y2="506.0" stroke="#5b8dd6" stroke-width="4.4" stroke-linecap="round"/>
<line x1="940.0" y1="495.0" x2="940.0" y2="506.0" stroke="#5b8dd6" stroke-width="4" stroke-linecap="round"/>
<line x1="901.8" y1="438.3" x2="901.8" y2="450.6" stroke="#5b8dd6" stroke-width="5.2" stroke-linecap="round"/>
<circle cx="926.6" cy="169.2" r="2.5" fill="#5b8dd6"/>
<circle cx="926.6" cy="181.6" r="2.5" fill="#5b8dd6"/>
<circle cx="926.6" cy="239.8" r="2.5" fill="#5b8dd6"/>
<circle cx="926.6" cy="273.4" r="2.5" fill="#5b8dd6"/>
<circle cx="926.6" cy="286.0" r="2.5" fill="#5b8dd6"/>
<circle cx="926.6" cy="305.9" r="2.5" fill="#5b8dd6"/>
<circle cx="926.6" cy="312.0" r="2.5" fill="#5b8dd6"/>
<circle cx="926.6" cy="318.0" r="2.5" fill="#5b8dd6"/>
<circle cx="926.6" cy="321.0" r="2.5" fill="#5b8dd6"/>
<circle cx="926.6" cy="324.0" r="2.5" fill="#5b8dd6"/>
<circle cx="926.6" cy="349.5" r="2.5" fill="#5b8dd6"/>
<circle cx="926.6" cy="386.8" r="2.5" fill="#5b8dd6"/>
<circle cx="926.6" cy="390.0" r="2.5" fill="#5b8dd6"/>
<circle cx="926.6" cy="416.0" r="2.5" fill="#5b8dd6"/>
<circle cx="926.6" cy="421.3" r="2.5" fill="#5b8dd6"/>
<circle cx="926.6" cy="424.4" r="2.5" fill="#5b8dd6"/>
<circle cx="926.6" cy="438.0" r="2.5" fill="#5b8dd6"/>
<circle cx="926.6" cy="441.2" r="2.5" fill="#5b8dd6"/>
<circle cx="978.7" cy="506.0" r="2.2" fill="#eeb92d"/>
<rect x="995.0" y="500.0" width="40.2" height="10.5" rx="2" fill="#2d2a8c"/>
<path d="M996.5,502.0 L996.5,502.3 L998.6,500.9 L1001.1,501.2 L1002.9,501.7 L1005.0,501.3 L1007.1,501.1 L1010.0,502.1 L1012.5,500.9 L1014.5,501.5 L1017.5,502.4 L1019.8,502.2 L1022.5,500.6 L1024.7,502.3 L1027.1,501.4 L1029.6,501.5 L1032.1,500.8 L1033.7,502.0Z" fill="#2d2a8c" stroke="#2d2a8c" stroke-width="2" stroke-linejoin="round"/>
<rect x="997.5" y="498.3" width="36.5" height="12.2" rx="2" fill="#2d2a8c"/>
<path d="M999.0,500.3 L999.0,500.0 L1002.0,500.4 L1004.5,500.0 L1007.2,500.6 L1010.2,500.1 L1011.6,500.3 L1013.7,500.8 L1015.7,500.0 L1018.3,500.1 L1020.1,500.4 L1022.7,498.9 L1024.9,500.4 L1027.7,500.0 L1029.4,500.5 L1032.0,499.2 L1032.5,500.3Z" fill="#2d2a8c" stroke="#2d2a8c" stroke-width="2" stroke-linejoin="round"/>
<rect x="1000.0" y="496.0" width="12.0" height="14.5" rx="2" fill="#2d2a8c"/>
<path d="M1001.5,498.0 L1001.5,497.6 L1003.8,498.0 L1006.8,497.8 L1009.3,496.9 L1010.5,498.0Z" fill="#2d2a8c" stroke="#2d2a8c" stroke-width="2" stroke-linejoin="round"/>
<line x1="1002.3" y1="487.1" x2="1002.3" y2="506.0" stroke="#2d2a8c" stroke-width="4.2" stroke-linecap="round"/>
<line x1="1005.0" y1="494.5" x2="1005.0" y2="506.0" stroke="#2d2a8c" stroke-width="5" stroke-linecap="round"/>
<line x1="1016.8" y1="493.0" x2="1016.8" y2="506.0" stroke="#2d2a8c" stroke-width="4.4" stroke-linecap="round"/>
<line x1="1030.8" y1="497.0" x2="1030.8" y2="506.0" stroke="#2d2a8c" stroke-width="4.4" stroke-linecap="round"/>
<line x1="1009.0" y1="497.2" x2="1009.0" y2="506.0" stroke="#2d2a8c" stroke-width="4.4" stroke-linecap="round"/>
<line x1="1023.0" y1="498.7" x2="1023.0" y2="506.0" stroke="#2d2a8c" stroke-width="4.4" stroke-linecap="round"/>
<rect x="1048.6" y="498.0" width="36.4" height="12.5" rx="2" fill="#3f4521"/>
<path d="M1050.1,500.0 L1050.1,499.4 L1051.9,499.2 L1053.5,498.3 L1055.4,498.3 L1057.2,499.7 L1059.0,499.6 L1060.6,500.8 L1063.2,500.0 L1065.0,499.9 L1067.1,499.6 L1069.6,498.9 L1071.5,498.1 L1074.4,500.7 L1077.1,498.1 L1079.8,500.4 L1082.6,499.0 L1083.5,500.0Z" fill="#3f4521" stroke="#3f4521" stroke-width="2" stroke-linejoin="round"/>
<rect x="1051.0" y="496.5" width="32.5" height="14.0" rx="2" fill="#3f4521"/>
<path d="M1052.5,498.5 L1052.5,499.0 L1055.5,497.7 L1057.3,498.8 L1058.8,498.5 L1061.5,498.3 L1063.1,497.2 L1065.8,498.7 L1068.7,497.8 L1071.4,497.7 L1074.3,497.4 L1077.1,498.6 L1079.6,497.9 L1082.0,498.5Z" fill="#3f4521" stroke="#3f4521" stroke-width="2" stroke-linejoin="round"/>
<line x1="1069.2" y1="468.1" x2="1069.2" y2="506.0" stroke="#3f4521" stroke-width="4.6" stroke-linecap="round"/>
<line x1="1066.5" y1="492.5" x2="1066.5" y2="506.0" stroke="#3f4521" stroke-width="5" stroke-linecap="round"/>
<line x1="1072.0" y1="492.5" x2="1072.0" y2="506.0" stroke="#3f4521" stroke-width="5" stroke-linecap="round"/>
<line x1="1057.0" y1="480.0" x2="1057.0" y2="506.0" stroke="#3f4521" stroke-width="4.6" stroke-linecap="round"/>
<line x1="1077.5" y1="483.2" x2="1077.5" y2="506.0" stroke="#3f4521" stroke-width="4.4" stroke-linecap="round"/>
<line x1="1082.4" y1="496.3" x2="1082.4" y2="506.0" stroke="#3f4521" stroke-width="4" stroke-linecap="round"/>
<line x1="1061.5" y1="495.2" x2="1061.5" y2="506.0" stroke="#3f4521" stroke-width="4.4" stroke-linecap="round"/>
<line x1="1053.0" y1="496.7" x2="1053.0" y2="506.0" stroke="#3f4521" stroke-width="4.4" stroke-linecap="round"/>
<line x1="1069.2" y1="427.2" x2="1069.2" y2="438.3" stroke="#3f4521" stroke-width="4.6" stroke-linecap="round"/>
<line x1="1069.2" y1="458.1" x2="1069.2" y2="461.1" stroke="#3f4521" stroke-width="4.6" stroke-linecap="round"/>
<line x1="1057.0" y1="464.3" x2="1057.0" y2="468.0" stroke="#3f4521" stroke-width="4.6" stroke-linecap="round"/>
<rect x="1100.3" y="498.5" width="33.7" height="12.0" rx="2" fill="#b8085e"/>
<path d="M1101.8,500.5 L1101.8,500.1 L1104.7,499.9 L1106.5,500.5 L1108.0,500.0 L1109.4,500.1 L1111.0,500.0 L1113.2,499.9 L1116.1,501.0 L1118.9,500.1 L1121.2,499.7 L1124.0,500.3 L1126.0,499.1 L1127.5,499.7 L1129.9,500.9 L1132.3,499.6 L1132.5,500.5Z" fill="#b8085e" stroke="#b8085e" stroke-width="2" stroke-linejoin="round"/>
<rect x="1102.0" y="496.0" width="9.0" height="14.5" rx="2" fill="#b8085e"/>
<path d="M1103.5,498.0 L1103.5,497.8 L1106.5,497.5 L1108.7,496.7 L1109.5,498.0Z" fill="#b8085e" stroke="#b8085e" stroke-width="2" stroke-linejoin="round"/>
<rect x="1109.0" y="493.5" width="18.0" height="17.0" rx="2" fill="#b8085e"/>
<path d="M1110.5,495.5 L1110.5,494.6 L1112.9,495.3 L1115.8,495.3 L1117.9,494.9 L1120.6,495.6 L1122.7,495.2 L1125.0,494.3 L1125.5,495.5Z" fill="#b8085e" stroke="#b8085e" stroke-width="2" stroke-linejoin="round"/>
<rect x="1115.0" y="491.5" width="10.5" height="19.0" rx="2" fill="#b8085e"/>
<path d="M1116.5,493.5 L1116.5,492.3 L1118.5,493.0 L1120.3,493.0 L1123.4,492.7 L1124.0,493.5Z" fill="#b8085e" stroke="#b8085e" stroke-width="2" stroke-linejoin="round"/>
<rect x="1126.0" y="495.5" width="7.3" height="15.0" rx="2" fill="#b8085e"/>
<path d="M1127.5,497.5 L1127.5,497.3 L1129.4,497.4 L1131.7,496.7 L1131.8,497.5Z" fill="#b8085e" stroke="#b8085e" stroke-width="2" stroke-linejoin="round"/>
<line x1="1127.9" y1="482.0" x2="1127.9" y2="506.0" stroke="#b8085e" stroke-width="4.8" stroke-linecap="round"/>
<line x1="1119.7" y1="490.8" x2="1119.7" y2="506.0" stroke="#b8085e" stroke-width="4.6" stroke-linecap="round"/>
<line x1="1123.3" y1="492.3" x2="1123.3" y2="506.0" stroke="#b8085e" stroke-width="4.6" stroke-linecap="round"/>
<line x1="1113.0" y1="493.3" x2="1113.0" y2="506.0" stroke="#b8085e" stroke-width="4.6" stroke-linecap="round"/>
<line x1="1103.5" y1="496.6" x2="1103.5" y2="506.0" stroke="#b8085e" stroke-width="4.2" stroke-linecap="round"/>
<line x1="1130.8" y1="495.6" x2="1130.8" y2="506.0" stroke="#b8085e" stroke-width="4.2" stroke-linecap="round"/>
<rect x="1141.4" y="498.0" width="17.2" height="12.5" rx="2" fill="#cf5a1c"/>
<path d="M1142.9,500.0 L1142.9,500.7 L1145.5,498.2 L1147.8,500.7 L1149.6,500.8 L1151.3,498.1 L1153.7,498.9 L1156.4,498.1 L1157.1,500.0Z" fill="#cf5a1c" stroke="#cf5a1c" stroke-width="2" stroke-linejoin="round"/>
<rect x="1159.6" y="498.0" width="19.0" height="12.5" rx="2" fill="#cf5a1c"/>
<path d="M1161.1,500.0 L1161.1,499.0 L1163.5,498.8 L1165.9,498.8 L1167.6,498.8 L1169.7,498.6 L1171.2,500.3 L1172.6,498.5 L1175.5,498.9 L1177.1,500.0Z" fill="#cf5a1c" stroke="#cf5a1c" stroke-width="2" stroke-linejoin="round"/>
<rect x="1143.0" y="495.0" width="14.5" height="15.5" rx="2" fill="#cf5a1c"/>
<path d="M1144.5,497.0 L1144.5,495.9 L1147.2,496.4 L1149.0,496.9 L1151.0,496.9 L1153.1,496.2 L1156.0,497.0Z" fill="#cf5a1c" stroke="#cf5a1c" stroke-width="2" stroke-linejoin="round"/>
<line x1="1163.0" y1="450.1" x2="1163.0" y2="506.0" stroke="#cf5a1c" stroke-width="4.9" stroke-linecap="round"/>
<line x1="1163.2" y1="488.2" x2="1163.2" y2="506.0" stroke="#cf5a1c" stroke-width="6.4" stroke-linecap="round"/>
<line x1="1163.4" y1="495.0" x2="1163.4" y2="506.0" stroke="#cf5a1c" stroke-width="8" stroke-linecap="round"/>
<line x1="1172.9" y1="458.2" x2="1172.9" y2="506.0" stroke="#cf5a1c" stroke-width="4.9" stroke-linecap="round"/>
<line x1="1173.2" y1="489.2" x2="1173.2" y2="506.0" stroke="#cf5a1c" stroke-width="6.4" stroke-linecap="round"/>
<line x1="1173.6" y1="495.5" x2="1173.6" y2="506.0" stroke="#cf5a1c" stroke-width="8" stroke-linecap="round"/>
<line x1="1147.0" y1="495.0" x2="1147.0" y2="506.0" stroke="#cf5a1c" stroke-width="5" stroke-linecap="round"/>
<line x1="1151.0" y1="495.5" x2="1151.0" y2="506.0" stroke="#cf5a1c" stroke-width="5" stroke-linecap="round"/>
<line x1="1155.0" y1="496.2" x2="1155.0" y2="506.0" stroke="#cf5a1c" stroke-width="4.4" stroke-linecap="round"/>
<line x1="1162.9" y1="108.2" x2="1162.9" y2="118.8" stroke="#cf5a1c" stroke-width="4.4" stroke-linecap="round"/>
<line x1="1162.9" y1="343.7" x2="1162.9" y2="352.3" stroke="#cf5a1c" stroke-width="4.4" stroke-linecap="round"/>
<circle cx="1162.9" cy="101.0" r="2.5" fill="#cf5a1c"/>
<circle cx="1162.9" cy="137.0" r="2.5" fill="#cf5a1c"/>
<circle cx="1162.9" cy="219.5" r="2.5" fill="#cf5a1c"/>
<circle cx="1162.9" cy="320.1" r="2.5" fill="#cf5a1c"/>
<circle cx="1162.9" cy="336.3" r="2.5" fill="#cf5a1c"/>
<circle cx="1162.9" cy="360.2" r="2.5" fill="#cf5a1c"/>
<circle cx="1162.9" cy="370.5" r="2.5" fill="#cf5a1c"/>
<circle cx="1162.9" cy="385.0" r="2.5" fill="#cf5a1c"/>
<circle cx="1162.9" cy="388.2" r="2.5" fill="#cf5a1c"/>
<circle cx="1162.9" cy="402.0" r="2.5" fill="#cf5a1c"/>
<circle cx="1162.9" cy="413.3" r="2.5" fill="#cf5a1c"/>
<circle cx="1162.9" cy="426.7" r="2.5" fill="#cf5a1c"/>
<circle cx="1162.9" cy="442.2" r="2.5" fill="#cf5a1c"/>
<rect x="1185.8" y="498.0" width="34.4" height="12.5" rx="2" fill="#bf74b5"/>
<path d="M1187.3,500.0 L1187.3,500.7 L1189.6,500.7 L1191.1,498.4 L1193.5,498.1 L1195.6,500.8 L1197.6,499.1 L1200.6,497.9 L1202.7,499.6 L1204.2,498.9 L1205.9,500.4 L1207.3,500.8 L1209.8,500.5 L1212.8,500.6 L1215.7,500.5 L1217.0,498.7 L1218.7,500.0Z" fill="#bf74b5" stroke="#bf74b5" stroke-width="2" stroke-linejoin="round"/>
<rect x="1188.0" y="496.0" width="31.0" height="14.5" rx="2" fill="#bf74b5"/>
<path d="M1189.5,498.0 L1189.5,497.0 L1191.1,498.4 L1193.8,497.1 L1196.7,497.0 L1198.1,497.2 L1200.7,497.6 L1203.7,498.0 L1206.7,497.1 L1208.0,498.5 L1210.5,496.9 L1211.9,497.9 L1214.5,498.2 L1217.4,497.5 L1217.5,498.0Z" fill="#bf74b5" stroke="#bf74b5" stroke-width="2" stroke-linejoin="round"/>
<line x1="1207.6" y1="437.9" x2="1207.6" y2="506.0" stroke="#bf74b5" stroke-width="4.4" stroke-linecap="round"/>
<line x1="1205.5" y1="491.5" x2="1205.5" y2="506.0" stroke="#bf74b5" stroke-width="5" stroke-linecap="round"/>
<line x1="1209.8" y1="491.5" x2="1209.8" y2="506.0" stroke="#bf74b5" stroke-width="5" stroke-linecap="round"/>
<line x1="1199.3" y1="491.2" x2="1199.3" y2="506.0" stroke="#bf74b5" stroke-width="4.4" stroke-linecap="round"/>
<line x1="1195.0" y1="494.7" x2="1195.0" y2="506.0" stroke="#bf74b5" stroke-width="4.4" stroke-linecap="round"/>
<line x1="1190.0" y1="492.2" x2="1190.0" y2="506.0" stroke="#bf74b5" stroke-width="4.4" stroke-linecap="round"/>
<line x1="1211.2" y1="495.0" x2="1211.2" y2="506.0" stroke="#bf74b5" stroke-width="4" stroke-linecap="round"/>
<line x1="1216.7" y1="492.2" x2="1216.7" y2="506.0" stroke="#bf74b5" stroke-width="4.4" stroke-linecap="round"/>
<line x1="1202.5" y1="494.5" x2="1202.5" y2="506.0" stroke="#bf74b5" stroke-width="4" stroke-linecap="round"/>
<rect x="1227.0" y="498.5" width="32.3" height="12.0" rx="2" fill="#95d1a4"/>
<path d="M1228.5,500.5 L1228.5,500.3 L1230.8,500.1 L1233.3,500.7 L1236.1,500.3 L1238.5,499.7 L1240.6,500.2 L1243.3,499.1 L1246.0,499.9 L1247.8,500.9 L1250.9,499.6 L1253.6,500.3 L1256.0,499.0 L1257.8,500.5Z" fill="#95d1a4" stroke="#95d1a4" stroke-width="2" stroke-linejoin="round"/>
<rect x="1229.0" y="496.8" width="29.0" height="13.7" rx="2" fill="#95d1a4"/>
<path d="M1230.5,498.8 L1230.5,498.1 L1232.4,498.4 L1235.2,498.5 L1237.8,498.1 L1240.7,497.7 L1242.5,499.3 L1244.3,498.5 L1246.6,497.7 L1249.5,499.2 L1252.3,497.7 L1255.1,498.2 L1256.5,498.8Z" fill="#95d1a4" stroke="#95d1a4" stroke-width="2" stroke-linejoin="round"/>
<rect x="1234.5" y="494.0" width="13.5" height="16.5" rx="2" fill="#95d1a4"/>
<path d="M1236.0,496.0 L1236.0,494.8 L1238.7,495.1 L1241.7,495.8 L1243.1,495.4 L1245.9,496.1 L1246.5,496.0Z" fill="#95d1a4" stroke="#95d1a4" stroke-width="2" stroke-linejoin="round"/>
<line x1="1238.0" y1="476.6" x2="1238.0" y2="506.0" stroke="#95d1a4" stroke-width="4.8" stroke-linecap="round"/>
<line x1="1245.0" y1="479.2" x2="1245.0" y2="506.0" stroke="#95d1a4" stroke-width="4.8" stroke-linecap="round"/>
<line x1="1252.0" y1="497.2" x2="1252.0" y2="506.0" stroke="#95d1a4" stroke-width="4.4" stroke-linecap="round"/>
<line x1="1235.3" y1="493.3" x2="1235.3" y2="506.0" stroke="#95d1a4" stroke-width="4.6" stroke-linecap="round"/>
<line x1="1241.5" y1="492.3" x2="1241.5" y2="506.0" stroke="#95d1a4" stroke-width="4.6" stroke-linecap="round"/>
<line x1="1248.3" y1="495.7" x2="1248.3" y2="506.0" stroke="#95d1a4" stroke-width="4.4" stroke-linecap="round"/>
<line x1="1231.5" y1="497.5" x2="1231.5" y2="506.0" stroke="#95d1a4" stroke-width="4" stroke-linecap="round"/>
<line x1="1238.0" y1="468.7" x2="1238.0" y2="470.2" stroke="#95d1a4" stroke-width="4.8" stroke-linecap="round"/>
<line x1="1238.0" y1="457.8" x2="1238.0" y2="461.6" stroke="#95d1a4" stroke-width="4.8" stroke-linecap="round"/>
<rect x="1267.3" y="497.5" width="24.9" height="13.0" rx="2" fill="#620e22"/>
<path d="M1268.8,499.5 L1268.8,497.6 L1270.5,498.5 L1273.0,499.0 L1274.7,499.6 L1277.4,498.0 L1279.5,500.1 L1282.2,498.0 L1284.0,498.6 L1286.9,497.7 L1289.1,498.9 L1290.7,499.5Z" fill="#620e22" stroke="#620e22" stroke-width="2" stroke-linejoin="round"/>
<rect x="1269.0" y="494.3" width="22.0" height="16.2" rx="2" fill="#620e22"/>
<path d="M1270.5,496.3 L1270.5,496.4 L1272.2,496.4 L1274.7,496.1 L1277.0,496.0 L1279.3,496.5 L1280.7,494.8 L1282.6,496.6 L1285.1,495.2 L1286.7,495.6 L1288.6,495.8 L1289.5,496.3Z" fill="#620e22" stroke="#620e22" stroke-width="2" stroke-linejoin="round"/>
<line x1="1275.9" y1="454.6" x2="1275.9" y2="506.0" stroke="#620e22" stroke-width="4.6" stroke-linecap="round"/>
<line x1="1273.8" y1="488.5" x2="1273.8" y2="506.0" stroke="#620e22" stroke-width="5" stroke-linecap="round"/>
<line x1="1278.0" y1="488.5" x2="1278.0" y2="506.0" stroke="#620e22" stroke-width="5" stroke-linecap="round"/>
<line x1="1275.9" y1="495.5" x2="1275.9" y2="505.8" stroke="#620e22" stroke-width="9" stroke-linecap="round"/>
<line x1="1285.2" y1="469.5" x2="1285.2" y2="506.0" stroke="#620e22" stroke-width="4.6" stroke-linecap="round"/>
<line x1="1283.5" y1="491.5" x2="1283.5" y2="506.0" stroke="#620e22" stroke-width="5" stroke-linecap="round"/>
<line x1="1287.0" y1="491.5" x2="1287.0" y2="506.0" stroke="#620e22" stroke-width="5" stroke-linecap="round"/>
<line x1="1270.5" y1="493.2" x2="1270.5" y2="506.0" stroke="#620e22" stroke-width="4.4" stroke-linecap="round"/>
<rect x="1300.0" y="494.0" width="26.8" height="16.5" rx="2" fill="#39624a"/>
<path d="M1301.5,496.0 L1301.5,496.7 L1304.6,494.3 L1306.7,495.1 L1308.5,494.5 L1310.6,494.0 L1313.3,494.4 L1316.3,496.1 L1317.7,496.2 L1319.3,496.6 L1320.7,495.2 L1323.6,495.5 L1325.3,496.0Z" fill="#39624a" stroke="#39624a" stroke-width="2" stroke-linejoin="round"/>
<rect x="1302.0" y="492.0" width="24.0" height="18.5" rx="2" fill="#39624a"/>
<path d="M1303.5,494.0 L1303.5,492.7 L1304.9,493.3 L1307.0,494.3 L1310.0,494.0 L1312.3,493.2 L1315.3,493.2 L1317.3,493.6 L1318.9,492.6 L1322.0,494.1 L1323.3,494.0 L1324.5,494.0Z" fill="#39624a" stroke="#39624a" stroke-width="2" stroke-linejoin="round"/>
<line x1="1304.4" y1="491.3" x2="1304.4" y2="506.0" stroke="#39624a" stroke-width="4.6" stroke-linecap="round"/>
<line x1="1316.6" y1="491.3" x2="1316.6" y2="506.0" stroke="#39624a" stroke-width="4.6" stroke-linecap="round"/>
<line x1="1323.6" y1="490.5" x2="1323.6" y2="506.0" stroke="#39624a" stroke-width="4.6" stroke-linecap="round"/>
<line x1="1320.0" y1="491.8" x2="1320.0" y2="506.0" stroke="#39624a" stroke-width="4.6" stroke-linecap="round"/>
<line x1="1313.0" y1="492.8" x2="1313.0" y2="506.0" stroke="#39624a" stroke-width="4.6" stroke-linecap="round"/>
<rect x="1339.5" y="497.5" width="16.6" height="13.0" rx="2" fill="#5b8dd6"/>
<path d="M1341.0,499.5 L1341.0,498.5 L1343.9,498.6 L1345.3,498.6 L1347.9,498.9 L1350.9,499.7 L1352.5,498.7 L1354.6,499.5Z" fill="#5b8dd6" stroke="#5b8dd6" stroke-width="2" stroke-linejoin="round"/>
<line x1="1342.2" y1="468.2" x2="1342.2" y2="506.0" stroke="#5b8dd6" stroke-width="4.8" stroke-linecap="round"/>
<line x1="1342.2" y1="496.0" x2="1342.2" y2="506.0" stroke="#5b8dd6" stroke-width="6" stroke-linecap="round"/>
<line x1="1353.0" y1="497.0" x2="1353.0" y2="506.0" stroke="#5b8dd6" stroke-width="4.4" stroke-linecap="round"/>
<line x1="1348.0" y1="497.7" x2="1348.0" y2="506.0" stroke="#5b8dd6" stroke-width="4.4" stroke-linecap="round"/>
<line x1="1342.2" y1="428.5" x2="1342.2" y2="451.6" stroke="#5b8dd6" stroke-width="4.8" stroke-linecap="round"/>
<circle cx="1342.2" cy="462.5" r="2.5" fill="#5b8dd6"/>
<rect x="1368.7" y="498.5" width="17.5" height="12.0" rx="2" fill="#eeb92d"/>
<path d="M1370.2,500.5 L1370.2,499.8 L1372.0,499.9 L1374.7,500.7 L1376.6,500.4 L1378.1,500.1 L1379.7,500.5 L1381.3,499.8 L1382.7,499.7 L1384.3,500.8 L1384.7,500.5Z" fill="#eeb92d" stroke="#eeb92d" stroke-width="2" stroke-linejoin="round"/>
<rect x="1370.8" y="493.4" width="14.5" height="17.1" rx="2" fill="#eeb92d"/>
<path d="M1372.3,495.4 L1372.3,495.5 L1375.3,494.2 L1378.1,495.6 L1380.3,495.7 L1383.2,494.2 L1383.8,495.4Z" fill="#eeb92d" stroke="#eeb92d" stroke-width="2" stroke-linejoin="round"/>
<line x1="1375.7" y1="461.7" x2="1375.7" y2="506.0" stroke="#eeb92d" stroke-width="4.8" stroke-linecap="round"/>
<line x1="1380.0" y1="458.1" x2="1380.0" y2="506.0" stroke="#eeb92d" stroke-width="4.6" stroke-linecap="round"/>
<line x1="1377.7" y1="475.3" x2="1377.7" y2="505.7" stroke="#eeb92d" stroke-width="9.3" stroke-linecap="round"/>
<line x1="1377.7" y1="487.5" x2="1377.7" y2="504.8" stroke="#eeb92d" stroke-width="11" stroke-linecap="round"/>
<line x1="1372.5" y1="492.2" x2="1372.5" y2="506.0" stroke="#eeb92d" stroke-width="4.4" stroke-linecap="round"/>
<line x1="1383.5" y1="492.2" x2="1383.5" y2="506.0" stroke="#eeb92d" stroke-width="4.4" stroke-linecap="round"/>
<line x1="1375.7" y1="431.3" x2="1375.7" y2="436.6" stroke="#eeb92d" stroke-width="4.6" stroke-linecap="round"/>
<circle cx="1375.7" cy="442.4" r="2.5" fill="#eeb92d"/>
<rect x="1394.0" y="499.0" width="60.4" height="11.5" rx="2" fill="#2d2a8c"/>
<path d="M1395.5,501.0 L1395.5,500.6 L1397.4,499.9 L1399.6,500.2 L1401.1,501.1 L1402.6,500.1 L1404.9,501.2 L1407.7,501.0 L1409.8,501.2 L1411.6,499.8 L1413.5,501.2 L1415.7,500.9 L1418.6,501.3 L1421.6,501.4 L1424.5,500.2 L1426.2,500.5 L1428.0,501.0 L1429.7,500.8 L1432.8,499.5 L1435.7,501.3 L1437.5,499.7 L1439.0,500.0 L1440.8,499.5 L1442.1,499.9 L1444.1,501.2 L1445.4,499.8 L1447.6,501.1 L1449.7,499.7 L1451.4,500.4 L1452.9,501.0Z" fill="#2d2a8c" stroke="#2d2a8c" stroke-width="2" stroke-linejoin="round"/>
<rect x="1396.5" y="497.3" width="56.5" height="13.2" rx="2" fill="#2d2a8c"/>
<path d="M1398.0,499.3 L1398.0,499.4 L1400.7,498.4 L1402.3,499.6 L1403.8,498.6 L1406.0,499.3 L1407.7,498.6 L1410.3,498.2 L1412.6,499.4 L1414.0,498.3 L1416.1,498.4 L1417.5,498.2 L1419.4,498.1 L1422.2,498.8 L1423.6,498.0 L1425.8,498.1 L1427.5,499.4 L1430.3,499.1 L1431.9,499.1 L1434.3,499.8 L1436.5,498.9 L1438.8,499.6 L1441.3,498.2 L1444.2,499.2 L1446.8,499.0 L1449.4,499.7 L1451.5,499.3Z" fill="#2d2a8c" stroke="#2d2a8c" stroke-width="2" stroke-linejoin="round"/>
<line x1="1410.0" y1="498.2" x2="1410.0" y2="506.0" stroke="#2d2a8c" stroke-width="4.4" stroke-linecap="round"/>
<line x1="1420.0" y1="497.7" x2="1420.0" y2="506.0" stroke="#2d2a8c" stroke-width="4.4" stroke-linecap="round"/>
<line x1="1434.3" y1="496.5" x2="1434.3" y2="506.0" stroke="#2d2a8c" stroke-width="4.4" stroke-linecap="round"/>
<line x1="1445.0" y1="497.7" x2="1445.0" y2="506.0" stroke="#2d2a8c" stroke-width="4.4" stroke-linecap="round"/>
<line x1="1402.0" y1="498.2" x2="1402.0" y2="506.0" stroke="#2d2a8c" stroke-width="4.4" stroke-linecap="round"/>
<circle cx="1468.4" cy="507.8" r="2.3" fill="#3f4521"/>
<line x1="105.6" y1="490.7" x2="1469.6" y2="490.7" stroke="#df0008" stroke-width="1.5" stroke-dasharray="4.7,4.365"/>
<line x1="158.2" y1="490.4" x2="207" y2="479" stroke="#000" stroke-width="1.4"/>
<line x1="174.9" y1="488.8" x2="220.9" y2="498.5" stroke="#000" stroke-width="1.4"/>
<line x1="340.9" y1="495.7" x2="359.4" y2="486.8" stroke="#000" stroke-width="1.4"/>
<line x1="332.5" y1="422.8" x2="339" y2="402" stroke="#000" stroke-width="1.4"/>
<line x1="652.6" y1="492.9" x2="1069.2" y2="487.4" stroke="#000" stroke-width="1.4"/>
<line x1="675.2" y1="488.2" x2="711.9" y2="450.6" stroke="#000" stroke-width="1.4"/>
<line x1="623.3" y1="462.5" x2="638.5" y2="464" stroke="#000" stroke-width="1.4"/>
<line x1="885.6" y1="435.7" x2="870.4" y2="443.8" stroke="#000" stroke-width="1.4"/>
<line x1="848" y1="469.5" x2="830.5" y2="480.3" stroke="#000" stroke-width="1.4"/>
<line x1="926.6" y1="396" x2="943" y2="397.3" stroke="#000" stroke-width="1.4"/>
<line x1="926.6" y1="481.5" x2="940.6" y2="455.8" stroke="#000" stroke-width="1.4"/>
<line x1="1069.2" y1="477.7" x2="1084.2" y2="479.9" stroke="#000" stroke-width="1.4"/>
<line x1="1162.9" y1="394.6" x2="1147" y2="406" stroke="#000" stroke-width="1.4"/>
<line x1="1207.5" y1="478.6" x2="1174.4" y2="455.8" stroke="#000" stroke-width="1.4"/>
<line x1="1207.5" y1="466.3" x2="1214.5" y2="446.2" stroke="#000" stroke-width="1.4"/>
<line x1="1238" y1="487.3" x2="1244.1" y2="467.2" stroke="#000" stroke-width="1.4"/>
<line x1="1285.4" y1="479.7" x2="1303.8" y2="483" stroke="#000" stroke-width="1.4"/>
<line x1="1285.4" y1="487.8" x2="1400.2" y2="475.3" stroke="#000" stroke-width="1.4"/>
<line x1="1379.1" y1="487" x2="1394.7" y2="490.8" stroke="#000" stroke-width="1.4"/>
<circle cx="174.9" cy="488.8" r="5" fill="#df0008"/>
<circle cx="207" cy="479" r="5" fill="#df0008"/>
<circle cx="359.4" cy="486.8" r="5" fill="#df0008"/>
<circle cx="332.5" cy="422.8" r="5" fill="#df0008"/>
<circle cx="623.3" cy="462.5" r="5" fill="#df0008"/>
<circle cx="675.2" cy="488.2" r="5" fill="#df0008"/>
<circle cx="885.6" cy="435.7" r="5" fill="#df0008"/>
<circle cx="848" cy="469.5" r="5" fill="#df0008"/>
<circle cx="926.6" cy="396" r="5" fill="#df0008"/>
<circle cx="926.6" cy="481.5" r="5" fill="#df0008"/>
<circle cx="1069.2" cy="477.7" r="5" fill="#df0008"/>
<circle cx="1069.2" cy="487.3" r="5" fill="#df0008"/>
<circle cx="1162.9" cy="394.6" r="5" fill="#df0008"/>
<circle cx="1207.5" cy="466.3" r="5" fill="#df0008"/>
<circle cx="1207.5" cy="478.6" r="5" fill="#df0008"/>
<circle cx="1238" cy="487.3" r="5" fill="#df0008"/>
<circle cx="1285.4" cy="479.7" r="5" fill="#df0008"/>
<circle cx="1285.4" cy="487.8" r="5" fill="#df0008"/>
<circle cx="1379.1" cy="487" r="5" fill="#df0008"/>
<g font-family="'Liberation Sans', Arial, sans-serif" font-style="italic" font-size="18.5" fill="#000" stroke="#000" stroke-width="0.25">
<text x="110.6" y="497">EXO1</text>
<text x="221.1" y="504.8">MTX1</text>
<text x="276.5" y="503.6">FILIP1L</text>
<text x="339.0" y="402.4">NEK10</text>
<text x="502.1" y="499.9" letter-spacing="0.13">HSALNG0102076</text>
<text x="616.6" y="448.8">AC000120.3,CYP51A1</text>
<text x="640.6" y="470.7">CCDC170</text>
<text x="810.1" y="456">FGFR2</text>
<text x="759.4" y="487.3">DNAJC1</text>
<text x="943.9" y="402.9">AP000439.3</text>
<text x="938.9" y="460.6">AP005233.1</text>
<text x="1084.8" y="486.1">RN7SL108P</text>
<text x="1074.4" y="413.6">CASC16</text>
<text x="1140.7" y="455.8">STXBP4</text>
<text x="1215.2" y="445.9">TOM1L1</text>
<text x="1244.8" y="466.9">CHST9</text>
<text x="1305.6" y="488.5">ZNF45</text>
<text x="1401" y="475.6">KCNN4</text>
<text x="1395.6" y="497.8">MAFF</text>
</g>
<path d="M95.6,9.1 H106.7 V509 H95.6" stroke="#000" stroke-width="2.1" stroke-linecap="round" stroke-linejoin="round" fill="none"/>
<line x1="95.6" y1="134.2" x2="106.7" y2="134.2" stroke="#000" stroke-width="2.1" stroke-linecap="round" stroke-linejoin="round" fill="none"/>
<line x1="95.6" y1="258.9" x2="106.7" y2="258.9" stroke="#000" stroke-width="2.1" stroke-linecap="round" stroke-linejoin="round" fill="none"/>
<line x1="95.6" y1="383.9" x2="106.7" y2="383.9" stroke="#000" stroke-width="2.1" stroke-linecap="round" stroke-linejoin="round" fill="none"/>
<line x1="106.6" y1="529.2" x2="1467.6" y2="529.2" stroke="#000" stroke-width="2.1" stroke-linecap="round" stroke-linejoin="round" fill="none"/>
<line x1="106.6" y1="529.2" x2="106.6" y2="539.8" stroke="#000" stroke-width="2.1" stroke-linecap="round" stroke-linejoin="round" fill="none"/>
<line x1="164" y1="529.2" x2="164" y2="539.8" stroke="#000" stroke-width="2.1" stroke-linecap="round" stroke-linejoin="round" fill="none"/>
<line x1="266" y1="529.2" x2="266" y2="539.8" stroke="#000" stroke-width="2.1" stroke-linecap="round" stroke-linejoin="round" fill="none"/>
<line x1="358.8" y1="529.2" x2="358.8" y2="539.8" stroke="#000" stroke-width="2.1" stroke-linecap="round" stroke-linejoin="round" fill="none"/>
<line x1="442" y1="529.2" x2="442" y2="539.8" stroke="#000" stroke-width="2.1" stroke-linecap="round" stroke-linejoin="round" fill="none"/>
<line x1="522.4" y1="529.2" x2="522.4" y2="539.8" stroke="#000" stroke-width="2.1" stroke-linecap="round" stroke-linejoin="round" fill="none"/>
<line x1="598.6" y1="529.2" x2="598.6" y2="539.8" stroke="#000" stroke-width="2.1" stroke-linecap="round" stroke-linejoin="round" fill="none"/>
<line x1="670.4" y1="529.2" x2="670.4" y2="539.8" stroke="#000" stroke-width="2.1" stroke-linecap="round" stroke-linejoin="round" fill="none"/>
<line x1="738" y1="529.2" x2="738" y2="539.8" stroke="#000" stroke-width="2.1" stroke-linecap="round" stroke-linejoin="round" fill="none"/>
<line x1="802.5" y1="529.2" x2="802.5" y2="539.8" stroke="#000" stroke-width="2.1" stroke-linecap="round" stroke-linejoin="round" fill="none"/>
<line x1="865.2" y1="529.2" x2="865.2" y2="539.8" stroke="#000" stroke-width="2.1" stroke-linecap="round" stroke-linejoin="round" fill="none"/>
<line x1="926.2" y1="529.2" x2="926.2" y2="539.8" stroke="#000" stroke-width="2.1" stroke-linecap="round" stroke-linejoin="round" fill="none"/>
<line x1="970.7" y1="529.2" x2="970.7" y2="539.8" stroke="#000" stroke-width="2.1" stroke-linecap="round" stroke-linejoin="round" fill="none"/>
<line x1="1011.1" y1="529.2" x2="1011.1" y2="539.8" stroke="#000" stroke-width="2.1" stroke-linecap="round" stroke-linejoin="round" fill="none"/>
<line x1="1063.5" y1="529.2" x2="1063.5" y2="539.8" stroke="#000" stroke-width="2.1" stroke-linecap="round" stroke-linejoin="round" fill="none"/>
<line x1="1113.3" y1="529.2" x2="1113.3" y2="539.8" stroke="#000" stroke-width="2.1" stroke-linecap="round" stroke-linejoin="round" fill="none"/>
<line x1="1160" y1="529.2" x2="1160" y2="539.8" stroke="#000" stroke-width="2.1" stroke-linecap="round" stroke-linejoin="round" fill="none"/>
<line x1="1203" y1="529.2" x2="1203" y2="539.8" stroke="#000" stroke-width="2.1" stroke-linecap="round" stroke-linejoin="round" fill="none"/>
<line x1="1243.1" y1="529.2" x2="1243.1" y2="539.8" stroke="#000" stroke-width="2.1" stroke-linecap="round" stroke-linejoin="round" fill="none"/>
<line x1="1280.3" y1="529.2" x2="1280.3" y2="539.8" stroke="#000" stroke-width="2.1" stroke-linecap="round" stroke-linejoin="round" fill="none"/>
<line x1="1313.4" y1="529.2" x2="1313.4" y2="539.8" stroke="#000" stroke-width="2.1" stroke-linecap="round" stroke-linejoin="round" fill="none"/>
<line x1="1344.8" y1="529.2" x2="1344.8" y2="539.8" stroke="#000" stroke-width="2.1" stroke-linecap="round" stroke-linejoin="round" fill="none"/>
<line x1="1374.4" y1="529.2" x2="1374.4" y2="539.8" stroke="#000" stroke-width="2.1" stroke-linecap="round" stroke-linejoin="round" fill="none"/>
<line x1="1424" y1="529.2" x2="1424" y2="539.8" stroke="#000" stroke-width="2.1" stroke-linecap="round" stroke-linejoin="round" fill="none"/>
<line x1="1465.8" y1="529.2" x2="1465.8" y2="539.8" stroke="#000" stroke-width="2.1" stroke-linecap="round" stroke-linejoin="round" fill="none"/>
<g font-family="'Liberation Sans', Arial, sans-serif" font-weight="bold" font-size="18.3" fill="#000" stroke="#000" stroke-width="0.2">
<text x="106.6" y="569" text-anchor="middle">Chr</text>
<text x="164" y="569" text-anchor="middle">1</text>
<text x="266" y="569" text-anchor="middle">2</text>
<text x="358.8" y="569" text-anchor="middle">3</text>
<text x="442" y="569" text-anchor="middle">4</text>
<text x="522.4" y="569" text-anchor="middle">5</text>
<text x="598.6" y="569" text-anchor="middle">6</text>
<text x="670.4" y="569" text-anchor="middle">7</text>
<text x="738" y="569" text-anchor="middle">8</text>
<text x="802.5" y="569" text-anchor="middle">9</text>
<text x="865.2" y="569" text-anchor="middle">10</text>
<text x="926.2" y="569" text-anchor="middle">11</text>
<text x="970.7" y="569" text-anchor="middle">12</text>
<text x="1011.1" y="569" text-anchor="middle">13</text>
<text x="1063.5" y="569" text-anchor="middle">14</text>
<text x="1113.3" y="569" text-anchor="middle">15</text>
<text x="1160" y="569" text-anchor="middle">16</text>
<text x="1203" y="569" text-anchor="middle">17</text>
<text x="1243.1" y="569" text-anchor="middle">18</text>
<text x="1313.4" y="569" text-anchor="middle">20</text>
<text x="1374.4" y="569" text-anchor="middle">22</text>
<text x="1424" y="569" text-anchor="middle">X</text>
<text x="1465.8" y="569" text-anchor="middle">Y</text>
<text x="83.5" y="15.899999999999999" text-anchor="end">200</text>
<text x="83.5" y="141.0" text-anchor="end">150</text>
<text x="83.5" y="265.7" text-anchor="end">100</text>
<text x="83.5" y="390.7" text-anchor="end">50</text>
<text x="83.5" y="515.8" text-anchor="end">0</text>
</g>
<g transform="translate(28.3,322) rotate(-90)" font-family="'Liberation Sans', Arial, sans-serif" fill="#000">
<text font-size="29.5"><tspan x="-0.6" y="2.0" font-size="29">−</tspan><tspan x="19.2" y="0">l</tspan><tspan dx="-0.9">og</tspan></text>
<text x="57.2" y="5.0" font-size="21">10</text>
<text transform="translate(79.2,0.8) scale(1.12,1)" font-size="34.7">(</text>
<text x="92.0" y="0" font-size="30" font-style="italic">P</text>
<text transform="translate(113.4,0.8) scale(1.12,1)" font-size="34.7">)</text>
</g>
</svg></body></html>
